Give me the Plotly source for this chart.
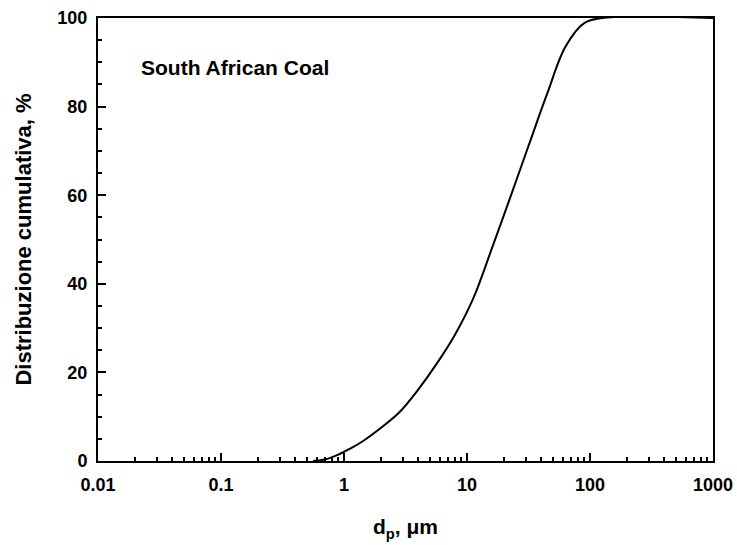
import plotly.graph_objects as go

# Data
dp_um = [0.56, 0.71, 0.89, 1.12, 1.41, 2.0, 2.82, 3.98, 5.62, 7.94, 11.2, 15.8,
         22.4, 31.6, 44.7, 63.1, 89.1, 126, 1000]
cum_pct = [0, 0.4, 1.4, 2.8, 4.4, 7.5, 11.0, 16.0, 21.8, 28.4, 36.6, 47.7,
           59.4, 71.1, 82.8, 93.5, 98.8, 100, 100]

x_tickvals = [0.01, 0.1, 1, 10, 100, 1000]
x_ticktext = ["0.01", "0.1", "1", "10", "100", "1000"]
x_minor = [m * 10 ** e for e in range(-2, 3) for m in range(2, 10)]

font_fam = "Liberation Sans, Arial, sans-serif"

fig = go.Figure()
fig.add_trace(go.Scatter(
    x=dp_um, y=cum_pct, mode="lines",
    line=dict(color="black", width=2, shape="spline", smoothing=1.0),
    showlegend=False, hoverinfo="skip", cliponaxis=True,
))

fig.add_annotation(
    text="South African Coal", x=0.066, y=0.889, xref="paper", yref="paper",
    xanchor="left", yanchor="middle", showarrow=False,
    font=dict(family=font_fam, size=21, color="black", weight="bold"),
)

axis_common = dict(
    showline=True, linecolor="black", linewidth=2, mirror=True,
    ticks="inside", tickcolor="black", tickwidth=1.5, ticklen=8,
    showgrid=False, zeroline=False, automargin=False,
    ticklabeloverflow="allow",
    tickfont=dict(family=font_fam, size=18, color="black", weight="bold"),
)

fig.update_xaxes(
    type="log", range=[-2, 3],
    tickvals=x_tickvals, ticktext=x_ticktext, ticklabelstandoff=6,
    minor=dict(tickvals=x_minor, ticks="inside", ticklen=4, tickcolor="black", tickwidth=1.5),
    title=dict(text="d<sub>p</sub>, μm", standoff=26,
               font=dict(family=font_fam, size=21, color="black", weight="bold")),
    **axis_common,
)
fig.update_yaxes(
    range=[0, 100], dtick=20, ticklabelstandoff=5,
    minor=dict(dtick=5, ticks="inside", ticklen=4, tickcolor="black", tickwidth=1.5),
    title=dict(text="Distribuzione cumulativa, %", standoff=20,
               font=dict(family=font_fam, size=22, color="black", weight="bold")),
    **axis_common,
)

fig.update_layout(
    width=737, height=545,
    margin=dict(l=98, r=24, t=18, b=84),
    plot_bgcolor="white", paper_bgcolor="white",
)

fig.write_html("out.html")
